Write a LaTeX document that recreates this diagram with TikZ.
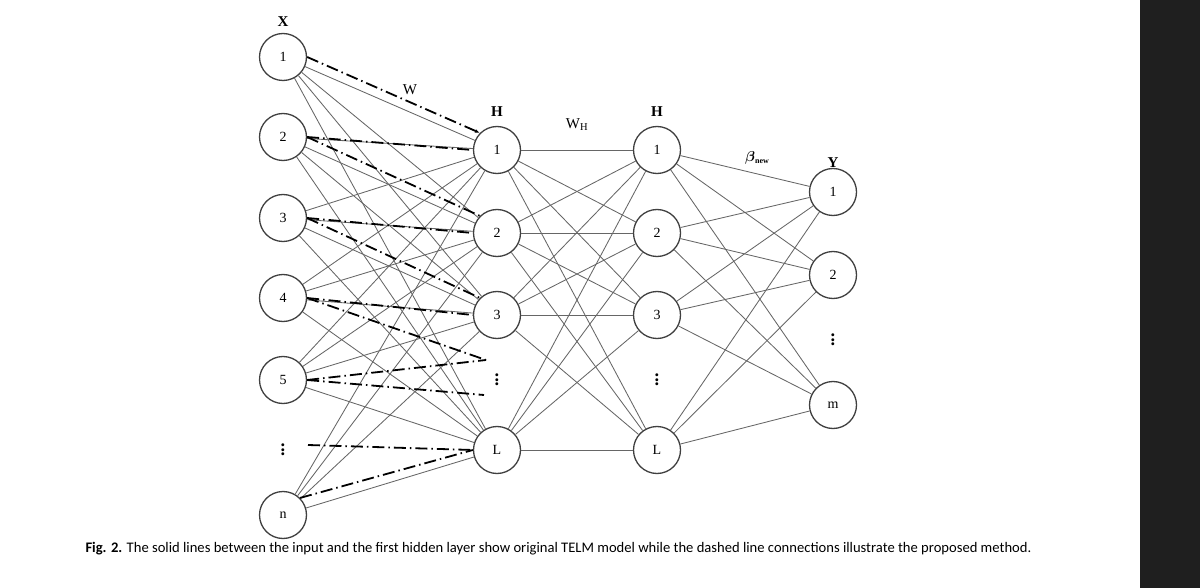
\documentclass[tikz,border=0pt]{standalone}
\usepackage{amsmath}
\usepackage{fontspec}
\setmainfont{Liberation Serif}
\newfontfamily\capfont{Carlito}
\usetikzlibrary{arrows.meta}
\begin{document}
\begin{tikzpicture}[x=1pt,y=-1pt,
  neu/.style={circle,draw=black!75,line width=1.3pt,minimum size=47pt,inner sep=0pt,font=\fontsize{14}{14}\selectfont,fill=white},
  con/.style={draw=black!60,line width=0.85pt},
  dd/.style={draw=black,line width=1.8pt,dash pattern=on 12pt off 4pt on 1.5pt off 4pt},
  lab/.style={font=\bfseries\fontsize{15}{15}\selectfont}]
\useasboundingbox (0,0) rectangle (1200,588);
\fill[black!88] (1140,0) rectangle (1200,588);
% input
\foreach \n/\y/\t in {x1/57/1,x2/137/2,x3/218/3,x4/298/4,x5/380/5,xn/515/n}
  \node[neu] (\n) at (283,\y) {\t};
\foreach \n/\y/\t in {a1/150/1,a2/233/2,a3/315/3,aL/450/L}
  \node[neu] (\n) at (497,\y) {\t};
\foreach \n/\y/\t in {b1/150/1,b2/233/2,b3/315/3,bL/450/L}
  \node[neu] (\n) at (657,\y) {\t};
\foreach \n/\y/\t in {y1/192/1,y2/275/2,ym/405/m}
  \node[neu] (\n) at (833,\y) {\t};
\foreach \i in {x1,x2,x3,x4,x5,xn}
  \foreach \j in {a1,a2,a3,aL}
    \path[con] (\i) -- (\j);
\foreach \i in {a1,a2,a3,aL}
  \foreach \j in {b1,b2,b3,bL}
    \path[con] (\i) -- (\j);
\foreach \i in {b1,b2,b3,bL}
  \foreach \j in {y1,y2,ym}
    \path[con] (\i) -- (\j);
% dots
\foreach \p in {(283,450),(497,380),(657,380),(833,340)}
  \node[font=\bfseries\fontsize{18}{18}\selectfont,rotate=90] at \p {...};
\coordinate (d1) at (486,360);
\coordinate (d2) at (484,395);
\coordinate (dl) at (308,445);
% dashed connections
\path[dd,-{Latex[length=5pt]}] (x1.east) -- (a1.north west);
\path[dd] (x2.east) -- (a1.west);
\path[dd] (x2.east) -- (a2.north west);
\path[dd] (x3.east) -- (a2.west);
\path[dd] (x3.east) -- (a3.north west);
\path[dd] (x4.east) -- (a3.west);
\path[dd] (x4.east) -- (d1);
\path[dd] (x5.east) -- (d1);
\path[dd] (x5.east) -- (d2);
\path[dd] (dl) -- (aL.west);
\path[dd] (xn.north east) -- (aL.west);
% labels
\node[lab] at (283,22) {X};
\node[font=\fontsize{15}{15}\selectfont] at (410,90) {W};
\node[lab] at (497,112) {H};
\node[font=\fontsize{15}{15}\selectfont] at (577,125) {W\textsubscript{H}};
\node[lab] at (657,112) {H};
\node at (757,158) {\bfseries\fontsize{15}{15}\selectfont$\boldsymbol{\beta}$\raisebox{-2pt}{\fontsize{8}{8}\selectfont new}};
\node[lab] at (833,163) {Y};
\node[anchor=west,font=\capfont\fontsize{14.6}{15}\selectfont] at (82,549)
 {\textbf{Fig. 2.} The solid lines between the input and the first hidden layer show original TELM model while the dashed line connections illustrate the proposed method.};
\end{tikzpicture}
\end{document}
